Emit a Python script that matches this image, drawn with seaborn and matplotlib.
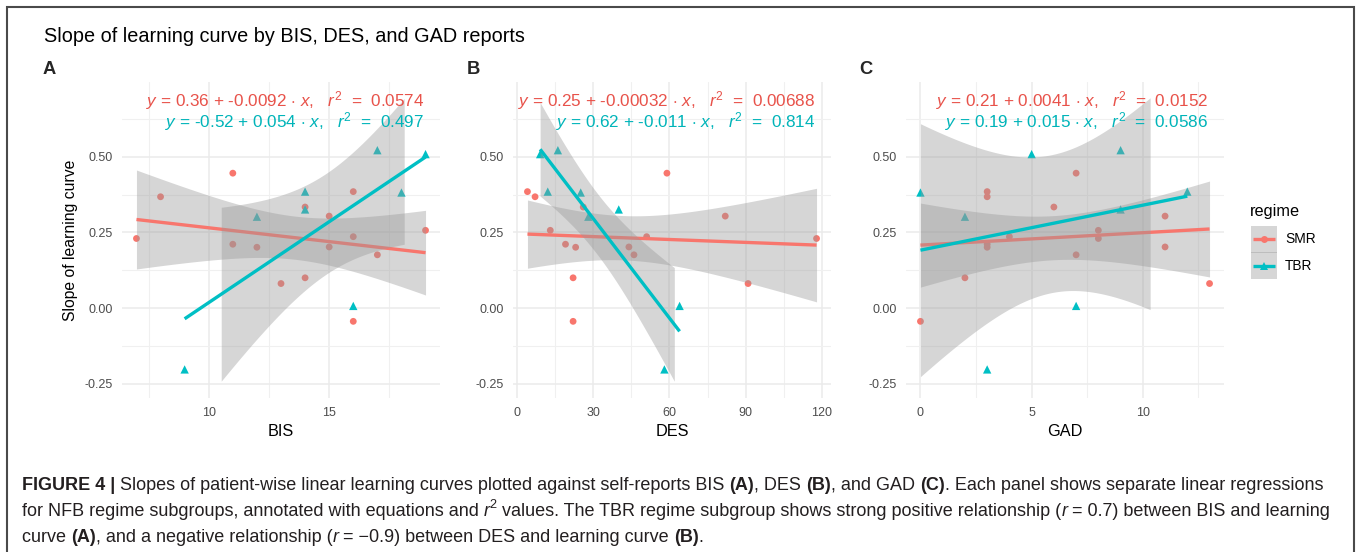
import numpy as np
import pandas as pd
import seaborn as sns
import matplotlib
matplotlib.use("Agg")
import matplotlib.pyplot as plt
from matplotlib.patches import Rectangle
from matplotlib.lines import Line2D
from matplotlib.ticker import FixedLocator, FormatStrFormatter

# ---------------- data ----------------
regimes = ["SMR", "TBR"]

smr_slope = [0.230, 0.368, 0.446, 0.211, 0.201, 0.202, 0.081, 0.334, 0.100, 0.304, 0.385, 0.236, -0.044, 0.176, 0.257]
smr_bis = [7, 8, 11, 11, 12, 15, 13, 14, 14, 15, 16, 16, 16, 17, 19]
smr_des = [118, 7, 59, 19, 23, 44, 91, 26, 22, 82, 4, 51, 22, 46, 13]
smr_gad = [8, 3, 7, 3, 3, 11, 13, 6, 2, 11, 3, 4, 0, 7, 8]

tbr_slope = [-0.203, 0.302, 0.385, 0.326, 0.007, 0.522, 0.382, 0.509]
tbr_bis = [9, 12, 14, 14, 16, 17, 18, 19]
tbr_des = [58, 28, 12, 40, 64, 16, 25, 9]
tbr_gad = [3, 2, 12, 9, 7, 9, 0, 5]

panel_vars = ["BIS", "DES", "GAD"]
panel_letters = ["A", "B", "C"]
x_major = [[10, 15], [0, 30, 60, 90, 120], [0, 5, 10]]
x_minor = [[7.5, 12.5, 17.5], [15, 45, 75, 105], [2.5, 7.5, 12.5]]
y_limits = [-0.25, 0.70]
y_major = [-0.25, 0.0, 0.25, 0.50]
y_minor = [-0.125, 0.125, 0.375, 0.625]

eq_smr = [
    r"$y$ = 0.36 + -0.0092 $\cdot$ $x$,   $r^2$  =  0.0574",
    r"$y$ = 0.25 + -0.00032 $\cdot$ $x$,   $r^2$  =  0.00688",
    r"$y$ = 0.21 + 0.0041 $\cdot$ $x$,   $r^2$  =  0.0152",
]
eq_tbr = [
    r"$y$ = -0.52 + 0.054 $\cdot$ $x$,   $r^2$  =  0.497",
    r"$y$ = 0.62 + -0.011 $\cdot$ $x$,   $r^2$  =  0.814",
    r"$y$ = 0.19 + 0.015 $\cdot$ $x$,   $r^2$  =  0.0586",
]

title_text = "Slope of learning curve by BIS, DES, and GAD reports"
ylabel_text = "Slope of learning curve"
legend_title = "regime"

caption_lines = [
    [("FIGURE 4 | ", "b"),
     ("Slopes of patient-wise linear learning curves plotted against self-reports BIS ", "n"),
     ("(A)", "b"), (", DES ", "n"), ("(B)", "b"), (", and GAD ", "n"), ("(C)", "b"),
     (". Each panel shows separate linear regressions", "n")],
    [("for NFB regime subgroups, annotated with equations and ", "n"), ("r", "i"), ("2", "sup"),
     (" values. The TBR regime subgroup shows strong positive relationship (", "n"), ("r", "i"),
     (" = 0.7) between BIS and learning", "n")],
    [("curve ", "n"), ("(A)", "b"), (", and a negative relationship (", "n"), ("r", "i"),
     (" = \u22120.9) between DES and learning curve ", "n"), ("(B)", "b"), (".", "n")],
]

df = pd.concat([
    pd.DataFrame({"slope": smr_slope, "BIS": smr_bis, "DES": smr_des, "GAD": smr_gad, "regime": "SMR"}),
    pd.DataFrame({"slope": tbr_slope, "BIS": tbr_bis, "DES": tbr_des, "GAD": tbr_gad, "regime": "TBR"}),
], ignore_index=True)

# ---------------- style ----------------
sns.set_theme(style="white")
plt.rcParams["font.family"] = ["Liberation Sans", "DejaVu Sans"]
plt.rcParams["mathtext.fontset"] = "custom"
plt.rcParams["mathtext.rm"] = "Liberation Sans"
plt.rcParams["mathtext.it"] = "Liberation Sans:italic"
plt.rcParams["mathtext.bf"] = "Liberation Sans:bold"
plt.rcParams["axes.unicode_minus"] = False

pal = {"SMR": "#F8766D", "TBR": "#00BFC4"}
text_pal = {"SMR": "#E8524A", "TBR": "#00B4B9"}
markers = {"SMR": "o", "TBR": "^"}
marker_area = {"SMR": 24, "TBR": 36}
T975 = {13: 2.1604, 6: 2.4469}

W, H = 1357, 552
fig = plt.figure(figsize=(W / 100, H / 100), dpi=100)
fig.patch.set_facecolor("white")

def fx(px):
    return px / W

def fy(py):
    return 1 - py / H

panel_left = [122, 513, 906]
p_top, p_bot, p_w = 82, 398, 318
xlims = []
for v in panel_vars:
    lo, hi = df[v].min(), df[v].max()
    pad = 0.05 * (hi - lo)
    xlims.append((lo - pad, hi + pad))
ypad = 0.05 * (y_limits[1] - y_limits[0])
ylim = (y_limits[0] - ypad, y_limits[1] + ypad)

sizes = df["regime"].map(marker_area).to_numpy()

for i, var in enumerate(panel_vars):
    ax = fig.add_axes([fx(panel_left[i]), fy(p_bot), p_w / W, (p_bot - p_top) / H])
    ax.set_facecolor("white")
    sns.scatterplot(data=df, x=var, y="slope", hue="regime", style="regime",
                    markers=markers, palette=pal, s=sizes, linewidth=0,
                    legend=False, ax=ax, zorder=2)
    for k, reg in enumerate(regimes):
        sub = df[df["regime"] == reg]
        x = sub[var].to_numpy(float)
        y = sub["slope"].to_numpy(float)
        n = len(x)
        b1, b0 = np.polyfit(x, y, 1)
        xs = np.linspace(x.min(), x.max(), 80)
        yhat = b0 + b1 * xs
        resid = y - (b0 + b1 * x)
        s = np.sqrt((resid ** 2).sum() / (n - 2))
        se = s * np.sqrt(1 / n + (xs - x.mean()) ** 2 / ((x - x.mean()) ** 2).sum())
        t = T975[n - 2]
        lo_b, hi_b = yhat - t * se, yhat + t * se
        # rows outside the y-scale limits are dropped (as ggplot does)
        keep = (lo_b >= y_limits[0]) & (hi_b <= y_limits[1])
        ax.fill_between(xs, lo_b, hi_b, where=keep, color="#999999",
                        alpha=0.4, lw=0, zorder=3 + 2 * k)
        sns.regplot(x=x, y=y, scatter=False, ci=None, truncate=True, color=pal[reg],
                    line_kws=dict(lw=2.4, zorder=4 + 2 * k, solid_capstyle="butt"), ax=ax)
    ax.set_xlim(*xlims[i])
    ax.set_ylim(*ylim)
    ax.xaxis.set_major_locator(FixedLocator(x_major[i]))
    ax.xaxis.set_minor_locator(FixedLocator(x_minor[i]))
    ax.yaxis.set_major_locator(FixedLocator(y_major))
    ax.yaxis.set_minor_locator(FixedLocator(y_minor))
    ax.yaxis.set_major_formatter(FormatStrFormatter("%.2f"))
    ax.grid(which="major", color="#EBEBEB", lw=1.1, zorder=0)
    ax.grid(which="minor", color="#F0F0F0", lw=0.8, zorder=0)
    ax.set_axisbelow(True)
    for sp in ax.spines.values():
        sp.set_visible(False)
    ax.tick_params(which="both", length=0, labelsize=9, labelcolor="#4D4D4D", pad=6.5)
    ax.set_xlabel(var, fontsize=11.7, color="black")
    ax.xaxis.set_label_coords(0.5, (p_bot - 431) / (p_bot - p_top))
    ax.xaxis.label.set_verticalalignment("center")
    if i == 0:
        ax.set_ylabel(ylabel_text, fontsize=11.3, color="black")
        ax.yaxis.set_label_coords((70 - panel_left[0]) / p_w, 0.5)
        ax.yaxis.label.set_verticalalignment("center")
    else:
        ax.set_ylabel("")
    ax.text(0.95, (p_bot - 100.5) / (p_bot - p_top), eq_smr[i], transform=ax.transAxes,
            ha="right", va="center", fontsize=12.3, color=text_pal["SMR"], zorder=10)
    ax.text(0.95, (p_bot - 121.5) / (p_bot - p_top), eq_tbr[i], transform=ax.transAxes,
            ha="right", va="center", fontsize=12.3, color=text_pal["TBR"], zorder=10)

# panel letters and title
for letter, px in zip(panel_letters, [49, 473, 866]):
    fig.text(fx(px), fy(70), letter, fontsize=13.2, fontweight="bold", ha="center", va="center")
fig.text(fx(44), fy(36), title_text, fontsize=14.3, ha="left", va="center", color="black")

# legend (ggplot style: grey ribbon key with line + point)
fig.text(fx(1250), fy(212), legend_title, fontsize=11.7, ha="left", va="center", color="black")
key_x0, key_x1 = 1250.5, 1276.5
key_tops = [226, 252.5]
key_h = 26.5
for r, top in zip(regimes, key_tops):
    fig.add_artist(Rectangle((fx(key_x0), fy(top + key_h)), fx(key_x1) - fx(key_x0), key_h / H,
                             transform=fig.transFigure, facecolor="#999999", alpha=0.4,
                             edgecolor="none"))
    yc = top + key_h / 2
    fig.add_artist(Line2D([fx(key_x0 + 2), fx(key_x1 - 2)], [fy(yc), fy(yc)],
                          transform=fig.transFigure, color=pal[r], lw=2.4,
                          solid_capstyle="butt"))
    fig.add_artist(Line2D([fx((key_x0 + key_x1) / 2)], [fy(yc)], transform=fig.transFigure,
                          color=pal[r], marker=markers[r], markersize=5 if r == "SMR" else 6,
                          markeredgewidth=0, lw=0))
    fig.text(fx(1285), fy(yc), r, fontsize=9.9, ha="left", va="center", color="black")

# outer frame
fig.add_artist(Rectangle((fx(7), -0.02), fx(1354) - fx(7), fy(7) + 0.02,
                         transform=fig.transFigure, fill=False, edgecolor="#4a4a4a", lw=1.5))

# caption
renderer = fig.canvas.get_renderer()
cap_color = "#231F20"

def seg_props(style, size):
    if style == "b":
        return dict(fontsize=size, fontweight="bold")
    if style == "i":
        return dict(fontsize=size, fontstyle="italic")
    if style == "sup":
        return dict(fontsize=size * 0.7)
    return dict(fontsize=size)

def draw_line(segs, x0, base_y, size, draw=True):
    x = x0
    arts = []
    for txt, style in segs:
        yoff = size * 1.389 * 0.42 if style == "sup" else 0
        t = fig.text(fx(x), fy(base_y - yoff), txt, ha="left", va="baseline",
                     color=cap_color, **seg_props(style, size))
        x += t.get_window_extent(renderer).width
        arts.append(t)
    if not draw:
        for a in arts:
            a.remove()
    return x - x0

w_test = draw_line(caption_lines[0], 22, 489, 12.0, draw=False)
cap_size = 12.0 * (1325 - 22) / w_test
for segs, base in zip(caption_lines, [489.5, 516, 542.5]):
    draw_line(segs, 22, base, cap_size)

fig.savefig("out.png", dpi=100, facecolor="white")
